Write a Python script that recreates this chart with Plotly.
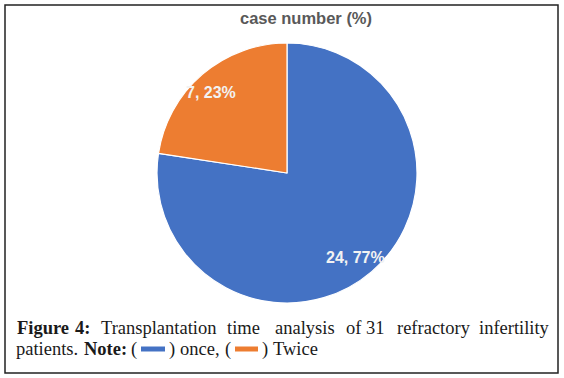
import plotly.graph_objects as go

# ---- data ----
categories = ["once", "Twice"]
values = [24, 7]
colors = ["#4472C4", "#ED7D31"]
chart_title = "case number (%)"

W, H = 564, 378
def px(x): return x / W
def py(y): return 1 - y / H

total = sum(values)

fig = go.Figure()
fig.add_trace(go.Pie(
    labels=categories, values=values, sort=False, direction="clockwise", rotation=0,
    marker=dict(colors=colors, line=dict(color="white", width=1.2)),
    textinfo="none", hoverinfo="label+value+percent", showlegend=False,
    domain=dict(x=[px(157), px(417)], y=[py(303), py(43)]),
))

annotations = []
# title
annotations.append(dict(x=px(306), y=py(18), xref="paper", yref="paper", showarrow=False,
                        text="<b>" + chart_title + "</b>", xanchor="center", yanchor="middle",
                        font=dict(family="Liberation Sans, Arial", size=16.5, color="#595959")))
# slice labels
label_pos = [(355, 257), (211, 92)]
for v, (lx, ly) in zip(values, label_pos):
    annotations.append(dict(x=px(lx), y=py(ly), xref="paper", yref="paper", showarrow=False,
                            text=f"<b>{v}, {round(100 * v / total)}%</b>",
                            xanchor="center", yanchor="middle",
                            font=dict(family="Liberation Sans, Arial", size=16, color="#F2F2F2")))

# caption (line 1 justified: words centred where the reference has them)
serif = "Liberation Serif, Times New Roman, serif"
fs = 18.5
line1 = [("<b>Figure</b>", 43), ("<b>4:</b>", 82), ("Transplantation", 158), ("time", 243),
         ("analysis", 304.5), ("of", 353.5), ("31", 375.5), ("refractory", 433.5), ("infertility", 514)]
line2 = [("patients.", 14), ("<b>Note:</b>", 82), ("(", 129), (")", 167), ("once,", 178),
         ("(", 223), (")", 260), ("Twice", 271)]
for txt, x in line1:
    annotations.append(dict(x=px(x), y=py(327.5), xref="paper", yref="paper", showarrow=False,
                            text=txt, xanchor="center", yanchor="middle",
                            font=dict(family=serif, size=fs, color="#1a1a1a")))
for txt, x in line2:
    annotations.append(dict(x=px(x), y=py(349), xref="paper", yref="paper", showarrow=False,
                            text=txt, xanchor="left", yanchor="middle",
                            font=dict(family=serif, size=fs, color="#1a1a1a")))

shapes = [
    dict(type="rect", xref="paper", yref="paper", x0=px(5), x1=px(558), y0=py(373), y1=py(5),
         line=dict(color="#222222", width=1.5), fillcolor="rgba(0,0,0,0)"),
]
# legend swatches in caption
for c, (x0, x1) in zip(colors, [(141, 165), (235, 258)]):
    shapes.append(dict(type="rect", xref="paper", yref="paper", x0=px(x0), x1=px(x1),
                       y0=py(351.5), y1=py(346.5), line=dict(width=0), fillcolor=c))

fig.update_layout(width=W, height=H, margin=dict(l=0, r=0, t=0, b=0),
                  paper_bgcolor="white", plot_bgcolor="white",
                  annotations=annotations, shapes=shapes)
fig.write_html("out.html", config={"displayModeBar": False},
               post_script="document.body.style.margin='0';document.body.style.overflow='hidden';")
